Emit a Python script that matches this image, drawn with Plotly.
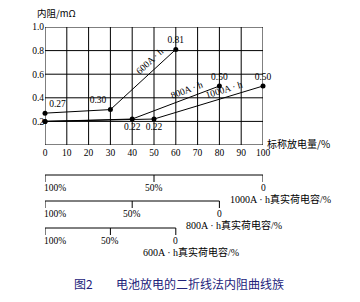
import math
import plotly.graph_objects as go

# ---------------- data ----------------
x_ticks = list(range(0, 101, 10))
y_ticks = [0.2, 0.4, 0.6, 0.8, 1.0]
y_tick_labels = ["0.2", "0.4", "0.6", "0.8", "1.0"]
y_range = [0, 1.0]
x_range = [0, 100]

capacities = [600, 800, 1000]            # A·h
nominal_capacity = 1000

x_600 = [0, 30, 60]
r_600 = [0.27, 0.30, 0.81]
show_600 = [True, True, True]

x_800 = [0, 40, 80]
r_800 = [0.20, 0.22, 0.50]
show_800 = [False, True, True]

x_1000 = [0, 50, 100]
r_1000 = [0.20, 0.22, 0.50]
show_1000 = [False, True, True]

soc_ticks = [100, 50, 0]
soc_tick_labels = ["100%", "50%", "0"]

y_title = "内阻/mΩ"
x_title = "标称放电量/%"
soc_title = "{}A · h真实荷电容/%"
fig_no = "图2"
caption = "电池放电的二折线法内阻曲线族"

# ---------------- layout constants ----------------
W, H = 360, 302
ML, MR, MT, MB = 45, 97, 27, 157
PW, PH = W - ML - MR, H - MT - MB
px_per_x = PW / (x_range[1] - x_range[0])
px_per_y = PH / (y_range[1] - y_range[0])

def py(px):
    """pixel row -> paper y"""
    return (H - MB - px) / PH

serif = "Liberation Serif, Noto Sans CJK SC"
cjk = "Noto Sans CJK SC"

series = {
    600: (x_600, r_600, show_600, ["top right", "top left", "top center"], 0.70, 9),
    800: (x_800, r_800, show_800, ["top center", "bottom center", "top center"], 0.66, 8),
    1000: (x_1000, r_1000, show_1000, ["top center", "bottom center", "top center"], 0.66, 8),
}

fig = go.Figure()
annotations = []
shapes = []

# grid and frame, drawn on the data scales
for xv in x_ticks:
    shapes.append(dict(type="line", xref="x", yref="y", x0=xv, x1=xv,
                       y0=y_range[0], y1=y_range[1], layer="above",
                       line=dict(color="black", width=1)))
for yv in [y_range[0]] + y_ticks:
    shapes.append(dict(type="line", xref="x", yref="y", x0=x_range[0], x1=x_range[1],
                       y0=yv, y1=yv, layer="above",
                       line=dict(color="black", width=1)))

for cap in capacities:
    xs, rs, show, pos, t, d = series[cap]
    texts = [f"{v:.2f}" if s else "" for v, s in zip(rs, show)]
    fig.add_trace(go.Scatter(
        x=xs, y=rs, mode="lines+markers+text",
        line=dict(color="black", width=1),
        marker=dict(color="black", size=5, symbol="circle"),
        text=texts, textposition=pos,
        textfont=dict(family=serif, size=9.5, color="black"),
        hoverinfo="skip", showlegend=False, cliponaxis=False,
    ))
    x0, x1 = xs[1], xs[2]
    y0, y1 = rs[1], rs[2]
    a = math.atan2((y1 - y0) * px_per_y, (x1 - x0) * px_per_x)
    annotations.append(dict(
        x=x0 + t * (x1 - x0), y=y0 + t * (y1 - y0), xref="x", yref="y",
        text=f"{cap}A · h", showarrow=False, textangle=-math.degrees(a),
        xanchor="center", yanchor="middle",
        xshift=-d * math.sin(a), yshift=d * math.cos(a),
        font=dict(family=serif, size=9.5, color="black"),
    ))

# secondary state-of-charge scales, mapped onto the main x scale
line_px = {1000: 175, 800: 201, 600: 228}
tick_len = 7
for cap in sorted(capacities, reverse=True):
    yl = py(line_px[cap])
    yt = py(line_px[cap] + tick_len)
    span = 100 * cap / nominal_capacity
    shapes.append(dict(type="line", xref="x", yref="paper", x0=0, x1=span, y0=yl, y1=yl,
                       line=dict(color="black", width=1)))
    for s, lab in zip(soc_ticks, soc_tick_labels):
        xv = (100 - s) / 100 * span
        shapes.append(dict(type="line", xref="x", yref="paper", x0=xv, x1=xv, y0=yl, y1=yt,
                           line=dict(color="black", width=1)))
        first = s == soc_ticks[0]
        annotations.append(dict(
            x=xv, y=yt, xref="x", yref="paper", text=lab, showarrow=False,
            xanchor="left" if first else "center", xshift=-3 if first else 0,
            yanchor="top", yshift=1,
            font=dict(family=serif, size=9.5, color="black"),
        ))
    annotations.append(dict(
        x=span, y=yt, xref="x", yref="paper", text=soc_title.format(cap),
        showarrow=False, xanchor="left", yanchor="top", xshift=-35, yshift=-9,
        font=dict(family=serif, size=10, color="black"),
    ))

annotations += [
    dict(x=-10 / PW, y=py(13), xref="paper", yref="paper", text=y_title,
         showarrow=False, xanchor="left", yanchor="middle",
         font=dict(family=cjk, size=9.5, color="black")),
    dict(x=1 + 2 / PW, y=py(143), xref="paper", yref="paper", text=x_title,
         showarrow=False, xanchor="left", yanchor="middle",
         font=dict(family=cjk, size=10, color="black")),
    dict(x=(83 - ML) / PW, y=py(283), xref="paper", yref="paper", text=fig_no,
         showarrow=False, xanchor="center", yanchor="middle",
         font=dict(family=cjk, size=12, color="#22227a")),
    dict(x=(200 - ML) / PW, y=py(283), xref="paper", yref="paper", text=caption,
         showarrow=False, xanchor="center", yanchor="middle",
         font=dict(family=cjk, size=12, color="#22227a")),
]

fig.update_layout(
    width=W, height=H,
    margin=dict(l=ML, r=MR, t=MT, b=MB),
    paper_bgcolor="white", plot_bgcolor="white",
    showlegend=False,
    xaxis=dict(
        range=x_range,
        tickmode="array", tickvals=x_ticks, ticktext=[str(v) for v in x_ticks],
        showgrid=False, showline=False, zeroline=False, ticks="",
        fixedrange=True,
        tickfont=dict(family=serif, size=9.5, color="black"),
    ),
    yaxis=dict(
        range=y_range,
        tickmode="array", tickvals=y_ticks, ticktext=y_tick_labels,
        showgrid=False, showline=False, zeroline=False, ticks="",
        fixedrange=True,
        tickfont=dict(family=serif, size=9.5, color="black"),
    ),
    shapes=shapes,
    annotations=annotations,
)
fig.write_html("out.html")
